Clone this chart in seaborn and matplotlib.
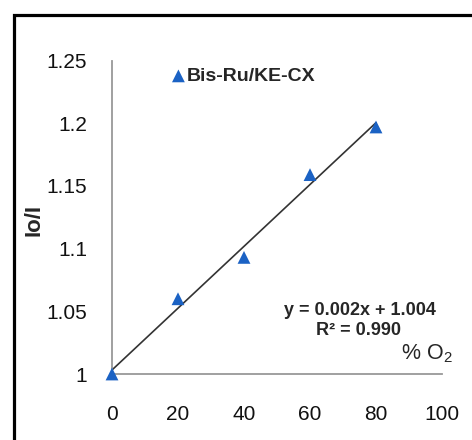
import matplotlib
matplotlib.use("Agg")
import matplotlib.pyplot as plt
import seaborn as sns
import numpy as np
import pandas as pd
from matplotlib.patches import Rectangle

# Data
o2_percent = [0, 20, 40, 60, 80]
io_over_i = [1.0, 1.06, 1.093, 1.159, 1.197]
series_label = "Bis-Ru/KE-CX"
x_ticks = [0, 20, 40, 60, 80, 100]
y_ticks = [1.0, 1.05, 1.1, 1.15, 1.2, 1.25]
y_tick_labels = ["1", "1.05", "1.1", "1.15", "1.2", "1.25"]
equation_text = "y = 0.002x + 1.004"
r2_text = "R\u00b2 = 0.990"

sns.set_style("white")
plt.rcParams['font.family'] = ['Liberation Sans', 'DejaVu Sans']
plt.rcParams['mathtext.fontset'] = 'custom'
plt.rcParams['mathtext.rm'] = 'Liberation Sans'
plt.rcParams['mathtext.default'] = 'regular'

df = pd.DataFrame({"o2": o2_percent, "ratio": io_over_i})

fig = plt.figure(figsize=(4.72, 4.40), dpi=100)
ax = fig.add_axes([112/472, 1-374/440, 330/472, (374-60.5)/440])

marker_color = "#1b62c4"
sns.regplot(data=df, x="o2", y="ratio", ax=ax, ci=None, truncate=True,
            scatter=False, line_kws=dict(color="#333333", lw=1.2))
sns.scatterplot(data=df, x="o2", y="ratio", ax=ax, marker="^", s=85,
                color=marker_color, edgecolor="none", label=series_label,
                clip_on=False, zorder=5)

ax.set_xlim(0, 100)
ax.set_ylim(1.0, 1.25)
ax.set_xticks(x_ticks)
ax.set_yticks(y_ticks)
ax.set_yticklabels(y_tick_labels)
ax.tick_params(axis='both', length=0, labelsize=15, colors='#111111')
ax.tick_params(axis='x', pad=22)
ax.tick_params(axis='y', pad=18)

for s in ["top", "right"]:
    ax.spines[s].set_visible(False)
for s in ["left", "bottom"]:
    ax.spines[s].set_color("#999999")
    ax.spines[s].set_linewidth(1.3)

ax.set_xlabel("")
ax.set_ylabel("")
fig.text(34/472, 1-220/440, "Io/I", rotation=90, fontsize=16, fontweight='bold',
         ha='center', va='center')

ax.text(75, 1.0505, equation_text, fontsize=13, fontweight='bold', ha='center', va='center')
ax.text(74.8, 1.035, r2_text, fontsize=13, fontweight='bold', ha='center', va='center')
ax.text(95.5, 1.016, "% O$_2$", fontsize=15.5, ha='center', va='center', clip_on=False)

leg = ax.legend(loc='center left', bbox_to_anchor=(0.16, 0.95), frameon=False,
                handlelength=0.6, handletextpad=0.12, borderaxespad=0,
                prop=dict(size=14, weight='bold'))

fig.patches.append(Rectangle((13.5/472, -0.1), 1.2, 1 - 15/440 + 0.1,
                             transform=fig.transFigure, fill=False,
                             edgecolor='black', linewidth=2.3, zorder=10))

fig.savefig("out.png", dpi=100)
